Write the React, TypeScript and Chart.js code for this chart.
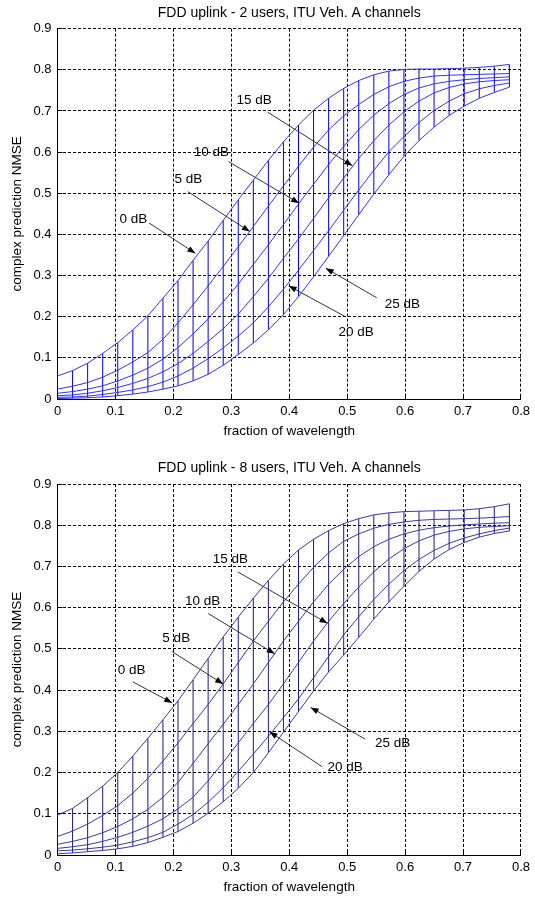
import React, { useEffect, useRef } from 'react';
import { Chart, registerables } from 'chart.js';

Chart.register(...registerables);

const FONT = '"Liberation Sans", Arial, Helvetica, sans-serif';

// fraction of wavelength (x samples)
const wavelengthFractions = [
  0, 0.026, 0.052, 0.078, 0.104, 0.13, 0.156, 0.182, 0.208, 0.234, 0.26,
  0.286, 0.312, 0.338, 0.364, 0.39, 0.416, 0.442, 0.468, 0.494, 0.52,
  0.546, 0.572, 0.598, 0.624, 0.65, 0.676, 0.702, 0.728, 0.754, 0.78,
];

const snrLabels = ['0 dB', '5 dB', '10 dB', '15 dB', '20 dB', '25 dB'];

// ---- 2 users ----
const users2_0dB = [0.056,0.069,0.087,0.111,0.137,0.168,0.202,0.245,0.288,0.337,0.384,0.434,0.484,0.532,0.580,0.625,0.666,0.702,0.731,0.755,0.774,0.788,0.797,0.801,0.802,0.802,0.803,0.804,0.806,0.809,0.813];
const users2_5dB = [0.024,0.031,0.040,0.053,0.070,0.090,0.113,0.145,0.185,0.229,0.275,0.322,0.370,0.419,0.469,0.518,0.566,0.612,0.654,0.688,0.716,0.740,0.759,0.772,0.780,0.785,0.787,0.788,0.789,0.790,0.791];
const users2_10dB = [0.014,0.018,0.024,0.032,0.044,0.058,0.075,0.097,0.125,0.158,0.195,0.236,0.279,0.327,0.375,0.424,0.474,0.522,0.570,0.614,0.655,0.690,0.718,0.740,0.756,0.766,0.772,0.776,0.779,0.781,0.783];
const users2_15dB = [0.008,0.010,0.014,0.020,0.028,0.038,0.050,0.066,0.086,0.111,0.140,0.171,0.206,0.249,0.293,0.342,0.389,0.439,0.489,0.537,0.585,0.628,0.666,0.698,0.724,0.744,0.757,0.766,0.771,0.774,0.776];
const users2_20dB = [0.004,0.005,0.007,0.011,0.016,0.022,0.030,0.041,0.056,0.075,0.098,0.124,0.153,0.185,0.224,0.267,0.313,0.361,0.409,0.459,0.508,0.556,0.601,0.638,0.672,0.701,0.724,0.742,0.754,0.762,0.768];
const users2_25dB = [0.001,0.002,0.003,0.005,0.008,0.012,0.017,0.024,0.032,0.044,0.060,0.082,0.108,0.136,0.168,0.205,0.249,0.297,0.347,0.397,0.448,0.498,0.545,0.590,0.628,0.661,0.689,0.712,0.731,0.745,0.758];

// ---- 8 users ----
const users8_0dB = [0.097,0.113,0.139,0.167,0.200,0.240,0.283,0.328,0.374,0.425,0.477,0.529,0.577,0.623,0.666,0.706,0.740,0.766,0.787,0.804,0.816,0.825,0.830,0.833,0.834,0.835,0.836,0.837,0.840,0.845,0.852];
const users8_5dB = [0.045,0.058,0.075,0.096,0.120,0.150,0.186,0.228,0.272,0.319,0.365,0.415,0.467,0.519,0.567,0.614,0.657,0.698,0.733,0.761,0.779,0.793,0.802,0.808,0.812,0.814,0.815,0.816,0.817,0.819,0.821];
const users8_10dB = [0.026,0.033,0.042,0.054,0.069,0.088,0.111,0.140,0.176,0.222,0.270,0.317,0.365,0.415,0.467,0.519,0.567,0.614,0.657,0.693,0.724,0.748,0.766,0.779,0.788,0.794,0.798,0.801,0.803,0.805,0.806];
const users8_15dB = [0.016,0.020,0.025,0.033,0.043,0.055,0.070,0.088,0.112,0.140,0.180,0.225,0.272,0.319,0.365,0.415,0.467,0.519,0.567,0.610,0.650,0.687,0.718,0.743,0.762,0.776,0.785,0.791,0.795,0.797,0.799];
const users8_20dB = [0.010,0.012,0.015,0.019,0.024,0.032,0.042,0.055,0.075,0.098,0.128,0.163,0.203,0.245,0.288,0.333,0.379,0.430,0.482,0.534,0.578,0.620,0.657,0.690,0.717,0.739,0.756,0.769,0.779,0.787,0.793];
const users8_25dB = [0.003,0.005,0.008,0.011,0.015,0.021,0.030,0.043,0.057,0.077,0.101,0.129,0.162,0.200,0.248,0.298,0.348,0.398,0.444,0.485,0.528,0.572,0.614,0.652,0.688,0.718,0.741,0.758,0.771,0.780,0.786];

// annotation placements (data units): text left/center, arrow from -> tip
const annots2 = [
  { label: '0 dB', tx: 0.107, ty: 0.438, fx: 0.158, fy: 0.428, ax: 0.238, ay: 0.354 },
  { label: '5 dB', tx: 0.202, ty: 0.533, fx: 0.225, fy: 0.504, ax: 0.332, ay: 0.407 },
  { label: '10 dB', tx: 0.235, ty: 0.599, fx: 0.295, fy: 0.577, ax: 0.417, ay: 0.476 },
  { label: '15 dB', tx: 0.309, ty: 0.726, fx: 0.363, fy: 0.697, ax: 0.509, ay: 0.567 },
  { label: '20 dB', tx: 0.485, ty: 0.162, fx: 0.497, fy: 0.200, ax: 0.399, ay: 0.275 },
  { label: '25 dB', tx: 0.565, ty: 0.229, fx: 0.551, fy: 0.246, ax: 0.463, ay: 0.318 },
];
const annots8 = [
  { label: '0 dB', tx: 0.104, ty: 0.447, fx: 0.13, fy: 0.42, ax: 0.198, ay: 0.369 },
  { label: '5 dB', tx: 0.181, ty: 0.526, fx: 0.198, fy: 0.493, ax: 0.286, ay: 0.415 },
  { label: '10 dB', tx: 0.22, ty: 0.616, fx: 0.26, fy: 0.586, ax: 0.375, ay: 0.488 },
  { label: '15 dB', tx: 0.268, ty: 0.717, fx: 0.311, fy: 0.687, ax: 0.466, ay: 0.562 },
  { label: '20 dB', tx: 0.466, ty: 0.213, fx: 0.457, fy: 0.214, ax: 0.366, ay: 0.299 },
  { label: '25 dB', tx: 0.548, ty: 0.272, fx: 0.531, fy: 0.281, ax: 0.437, ay: 0.358 },
];

const align = (p: number) => Math.round(p - 0.5) + 0.5;

const matlabPlugin = {
  id: 'matlabAxes',
  afterDatasetsDraw(chart: any, _args: any, opts: any) {
    const { ctx, chartArea, scales } = chart;
    const xs = scales.x;
    const ys = scales.y;
    ctx.save();
    ctx.setLineDash([]);
    ctx.strokeStyle = '#000';
    ctx.lineWidth = 1;
    ctx.beginPath();
    xs.ticks.forEach((t: any) => {
      const p = align(xs.getPixelForValue(t.value));
      ctx.moveTo(p, chartArea.bottom);
      ctx.lineTo(p, chartArea.bottom - 5);
    });
    ys.ticks.forEach((t: any) => {
      const p = align(ys.getPixelForValue(t.value));
      ctx.moveTo(chartArea.left, p);
      ctx.lineTo(chartArea.left + 5, p);
    });
    ctx.stroke();

    const items = (opts && opts.items) || [];
    ctx.font = `13.5px ${FONT}`;
    ctx.fillStyle = '#000';
    ctx.textAlign = 'left';
    ctx.textBaseline = 'middle';
    items.forEach((a: any) => {
      ctx.fillStyle = '#000';
      ctx.fillText(a.label, xs.getPixelForValue(a.tx), ys.getPixelForValue(a.ty));
      const x1 = xs.getPixelForValue(a.fx);
      const y1 = ys.getPixelForValue(a.fy);
      const x2 = xs.getPixelForValue(a.ax);
      const y2 = ys.getPixelForValue(a.ay);
      ctx.strokeStyle = '#333';
      ctx.beginPath();
      ctx.moveTo(x1, y1);
      ctx.lineTo(x2, y2);
      ctx.stroke();
      const ang = Math.atan2(y2 - y1, x2 - x1);
      const L = 8;
      const W = 3;
      const bx = x2 - L * Math.cos(ang);
      const by = y2 - L * Math.sin(ang);
      ctx.fillStyle = '#000';
      ctx.beginPath();
      ctx.moveTo(x2, y2);
      ctx.lineTo(bx + W * Math.sin(ang), by - W * Math.cos(ang));
      ctx.lineTo(bx - W * Math.sin(ang), by + W * Math.cos(ang));
      ctx.closePath();
      ctx.fill();
    });
    ctx.restore();
  },
};

type Props = {
  title: string;
  series: number[][];
  annots: any[];
  top: number;
  height: number;
  plotTop: number;
  plotBottom: number;
  titleY: number;
  xTitleY: number;
  lineColor: string;
  meshColor: string;
};

const fmt = (v: any) => {
  const n = Math.round(Number(v) * 10) / 10;
  return n === 0 ? '0' : n.toFixed(1);
};

function MeshChart(p: Props) {
  const ref = useRef<HTMLCanvasElement | null>(null);
  useEffect(() => {
    if (!ref.current) return;
    const curveSets = p.series.map((s, k) => ({
      label: snrLabels[k],
      data: wavelengthFractions.map((x, i) => ({ x, y: s[i] })),
      borderColor: p.lineColor,
      borderWidth: 1,
      pointRadius: 0,
      tension: 0,
      fill: false,
    }));
    const mesh: any[] = [];
    wavelengthFractions.forEach((x, i) => {
      const col = p.series.map((s) => s[i]);
      mesh.push({ x, y: Math.min(...col) }, { x, y: Math.max(...col) }, { x, y: null });
    });
    const tickFont = { family: FONT, size: 13 };
    const titleFont = { family: FONT, size: 13.5 };
    const chart = new Chart(ref.current, {
      type: 'line',
      data: {
        datasets: [
          ...curveSets,
          {
            label: 'mesh',
            data: mesh,
            borderColor: p.meshColor,
            borderWidth: 1,
            pointRadius: 0,
            spanGaps: false,
            fill: false,
          } as any,
        ],
      },
      options: {
        animation: false,
        responsive: false,
        devicePixelRatio: 1,
        events: [],
        layout: { padding: { left: 0, right: 9.5, top: 0, bottom: 0 } },
        plugins: {
          legend: { display: false },
          tooltip: { enabled: false },
          title: {
            display: true,
            text: p.title,
            fullSize: false,
            color: '#000',
            font: { family: FONT, size: 14, weight: 'normal' },
            padding: { top: p.titleY - 8.4, bottom: p.plotTop - p.titleY - 8.4 },
          },
          matlabAxes: { items: p.annots },
        } as any,
        scales: {
          x: {
            type: 'linear',
            min: 0,
            max: 0.8,
            ticks: { stepSize: 0.1, callback: fmt, color: '#000', font: tickFont, padding: 5, maxRotation: 0, autoSkip: false },
            grid: { color: '#000', lineWidth: 1, drawTicks: false },
            border: { display: true, color: '#000', width: 1, dash: [3, 2] },
            title: {
              display: true,
              text: 'fraction of wavelength',
              color: '#000',
              font: titleFont,
              padding: { top: 0, bottom: p.height - p.xTitleY - 8.1 },
            },
            afterFit: (s: any) => {
              s.height = p.height - p.plotBottom;
            },
          },
          y: {
            type: 'linear',
            min: 0,
            max: 0.9,
            ticks: { stepSize: 0.1, callback: fmt, color: '#000', font: tickFont, padding: 6, autoSkip: false },
            grid: { color: '#000', lineWidth: 1, drawTicks: false },
            border: { display: true, color: '#000', width: 1, dash: [3, 2] },
            title: {
              display: true,
              text: 'complex prediction NMSE',
              color: '#000',
              font: titleFont,
              padding: { top: 9.4, bottom: 0 },
            },
            afterFit: (s: any) => {
              s.width = 57.5;
            },
          },
        } as any,
      },
      plugins: [matlabPlugin as any],
    });
    return () => chart.destroy();
  }, []);
  return (
    <canvas
      ref={ref}
      width={535}
      height={p.height}
      style={{ position: 'absolute', left: 0, top: p.top, width: 535, height: p.height, display: 'block' }}
    />
  );
}

export default function App() {
  return (
    <div style={{ position: 'absolute', left: 0, top: 0, width: 535, height: 897, background: '#fff' }}>
      <MeshChart
        title="FDD uplink - 2 users, ITU Veh. A channels"
        series={[users2_0dB, users2_5dB, users2_10dB, users2_15dB, users2_20dB, users2_25dB]}
        annots={annots2}
        top={0}
        height={448}
        plotTop={28.7}
        plotBottom={399}
        titleY={12.7}
        xTitleY={431.5}
        lineColor="#3333f0"
        meshColor="#0000dd"
      />
      <MeshChart
        title="FDD uplink - 8 users, ITU Veh. A channels"
        series={[users8_0dB, users8_5dB, users8_10dB, users8_15dB, users8_20dB, users8_25dB]}
        annots={annots8}
        top={448}
        height={449}
        plotTop={36}
        plotBottom={407}
        titleY={20}
        xTitleY={439}
        lineColor="#3a3aa0"
        meshColor="#1a1a88"
      />
    </div>
  );
}
